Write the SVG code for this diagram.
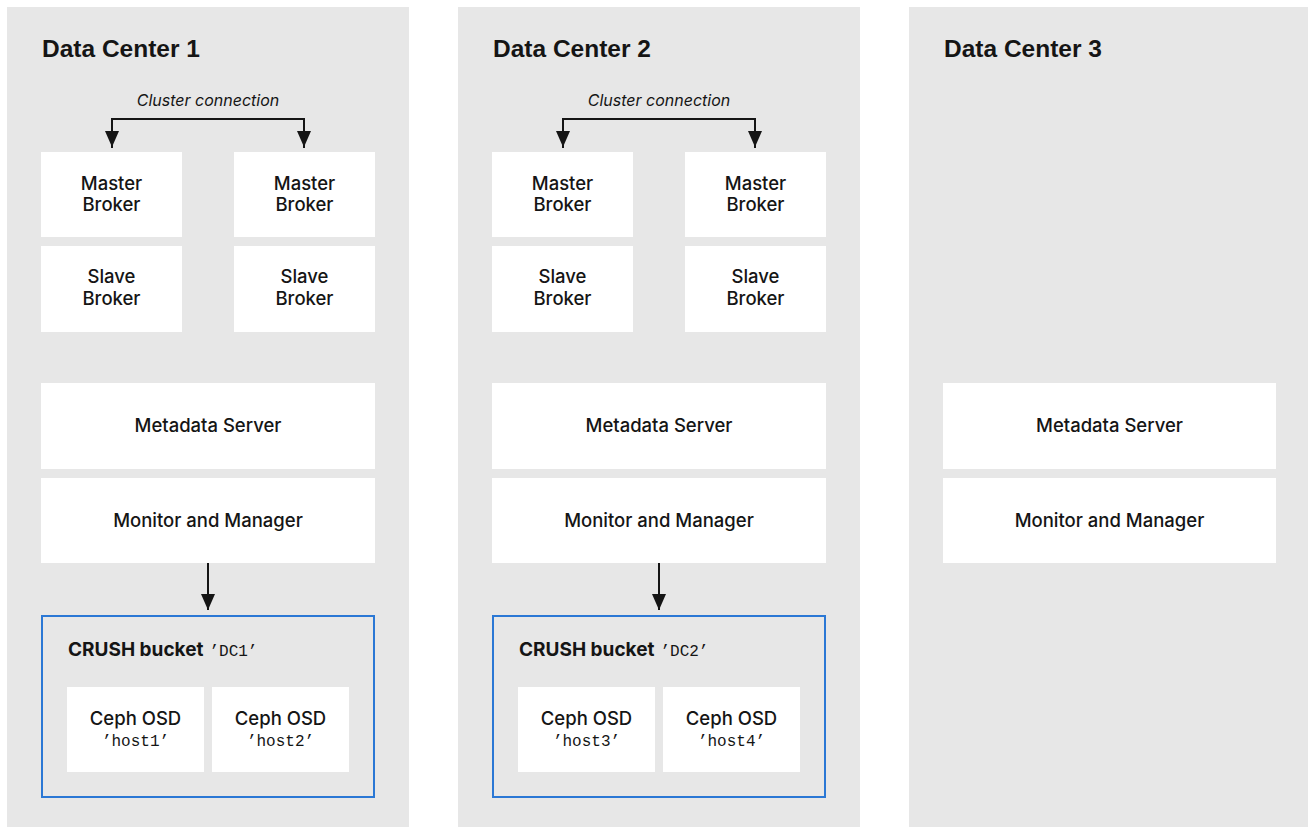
<svg xmlns="http://www.w3.org/2000/svg" width="1308" height="827" viewBox="0 0 1308 827">
<defs>
<style>
.panel{fill:#e7e7e7}
.box{fill:#ffffff}
.bucket{fill:none;stroke:#2b78d5;stroke-width:2}
.title{font-family:"Liberation Sans",Arial,sans-serif;font-weight:bold;font-size:24.5px;fill:#151515}
.lbl{font-family:Inter,"Liberation Sans",sans-serif;font-weight:500;font-size:18.5px;fill:#151515;text-anchor:middle}
.bk{font-family:Inter,"Liberation Sans",sans-serif;font-weight:700;font-size:19px;fill:#151515}
.mono{font-family:"Liberation Mono","DejaVu Sans Mono",monospace;font-size:16px;fill:#151515}
.it{font-family:Inter,"Liberation Sans",sans-serif;font-style:italic;font-size:16px;fill:#151515;text-anchor:middle}
.ln{fill:none;stroke:#151515;stroke-width:2}
</style>
<marker id="ah" viewBox="0 0 16 14" refX="16" refY="7" markerWidth="16" markerHeight="14" markerUnits="userSpaceOnUse" orient="auto">
<path d="M0,0 L16,7 L0,14 Z" fill="#151515"/>
</marker>
</defs>
<rect width="1308" height="827" fill="#ffffff"/>

<g id="dc1">
<rect class="panel" x="7" y="7" width="402" height="820"/>
<text class="title" x="42" y="57">Data Center 1</text>
<text class="it" x="208" y="106">Cluster connection</text>
</g>
<g id="dc1-master1"><rect class="box" x="41" y="152" width="141" height="85"/><text class="lbl" x="111.5" y="190">Master</text><text class="lbl" x="111.5" y="211">Broker</text></g>
<g id="dc1-master2"><rect class="box" x="234" y="152" width="141" height="85"/><text class="lbl" x="304.5" y="190">Master</text><text class="lbl" x="304.5" y="211">Broker</text></g>
<g id="dc1-slave1"><rect class="box" x="41" y="246" width="141" height="86"/><text class="lbl" x="111.5" y="283">Slave</text><text class="lbl" x="111.5" y="304.5">Broker</text></g>
<g id="dc1-slave2"><rect class="box" x="234" y="246" width="141" height="86"/><text class="lbl" x="304.5" y="283">Slave</text><text class="lbl" x="304.5" y="304.5">Broker</text></g>
<g id="dc1-mds"><rect class="box" x="41" y="383" width="334" height="86"/><text class="lbl" x="208" y="432">Metadata Server</text></g>
<g id="dc1-mon"><rect class="box" x="41" y="478" width="334" height="85"/><text class="lbl" x="208" y="527">Monitor and Manager</text></g>
<g id="dc1-bucket"><rect class="bucket" x="42" y="616" width="332" height="181"/><text x="68" y="656"><tspan class="bk">CRUSH bucket</tspan><tspan class="mono" dx="6">’DC1’</tspan></text></g>
<g id="dc1-osd1"><rect class="box" x="67" y="687" width="137" height="85"/><text class="lbl" x="135.5" y="725">Ceph OSD</text><text class="mono" x="135.5" y="745.5" text-anchor="middle">’host1’</text></g>
<g id="dc1-osd2"><rect class="box" x="212" y="687" width="137" height="85"/><text class="lbl" x="280.5" y="725">Ceph OSD</text><text class="mono" x="280.5" y="745.5" text-anchor="middle">’host2’</text></g>

<g id="dc2">
<rect class="panel" x="458" y="7" width="402" height="820"/>
<text class="title" x="493" y="57">Data Center 2</text>
<text class="it" x="659" y="106">Cluster connection</text>
</g>
<g id="dc2-master1"><rect class="box" x="492" y="152" width="141" height="85"/><text class="lbl" x="562.5" y="190">Master</text><text class="lbl" x="562.5" y="211">Broker</text></g>
<g id="dc2-master2"><rect class="box" x="685" y="152" width="141" height="85"/><text class="lbl" x="755.5" y="190">Master</text><text class="lbl" x="755.5" y="211">Broker</text></g>
<g id="dc2-slave1"><rect class="box" x="492" y="246" width="141" height="86"/><text class="lbl" x="562.5" y="283">Slave</text><text class="lbl" x="562.5" y="304.5">Broker</text></g>
<g id="dc2-slave2"><rect class="box" x="685" y="246" width="141" height="86"/><text class="lbl" x="755.5" y="283">Slave</text><text class="lbl" x="755.5" y="304.5">Broker</text></g>
<g id="dc2-mds"><rect class="box" x="492" y="383" width="334" height="86"/><text class="lbl" x="659" y="432">Metadata Server</text></g>
<g id="dc2-mon"><rect class="box" x="492" y="478" width="334" height="85"/><text class="lbl" x="659" y="527">Monitor and Manager</text></g>
<g id="dc2-bucket"><rect class="bucket" x="493" y="616" width="332" height="181"/><text x="519" y="656"><tspan class="bk">CRUSH bucket</tspan><tspan class="mono" dx="6">’DC2’</tspan></text></g>
<g id="dc2-osd1"><rect class="box" x="518" y="687" width="137" height="85"/><text class="lbl" x="586.5" y="725">Ceph OSD</text><text class="mono" x="586.5" y="745.5" text-anchor="middle">’host3’</text></g>
<g id="dc2-osd2"><rect class="box" x="663" y="687" width="137" height="85"/><text class="lbl" x="731.5" y="725">Ceph OSD</text><text class="mono" x="731.5" y="745.5" text-anchor="middle">’host4’</text></g>

<g id="dc3">
<rect class="panel" x="909" y="7" width="399" height="820"/>
<text class="title" x="944" y="57">Data Center 3</text>
</g>
<g id="dc3-mds"><rect class="box" x="943" y="383" width="333" height="86"/><text class="lbl" x="1109.5" y="432">Metadata Server</text></g>
<g id="dc3-mon"><rect class="box" x="943" y="478" width="333" height="85"/><text class="lbl" x="1109.5" y="527">Monitor and Manager</text></g>

<g id="connectors">
<path class="ln" d="M112,148 V119 H304 V148" />
<path class="ln" d="M112,131 V147" marker-end="url(#ah)"/>
<path class="ln" d="M304,131 V147" marker-end="url(#ah)"/>
<path class="ln" d="M563,148 V119 H755 V148" />
<path class="ln" d="M563,131 V147" marker-end="url(#ah)"/>
<path class="ln" d="M755,131 V147" marker-end="url(#ah)"/>
<path class="ln" d="M208,563 V610" marker-end="url(#ah)"/>
<path class="ln" d="M659,563 V610" marker-end="url(#ah)"/>
</g>
</svg>
